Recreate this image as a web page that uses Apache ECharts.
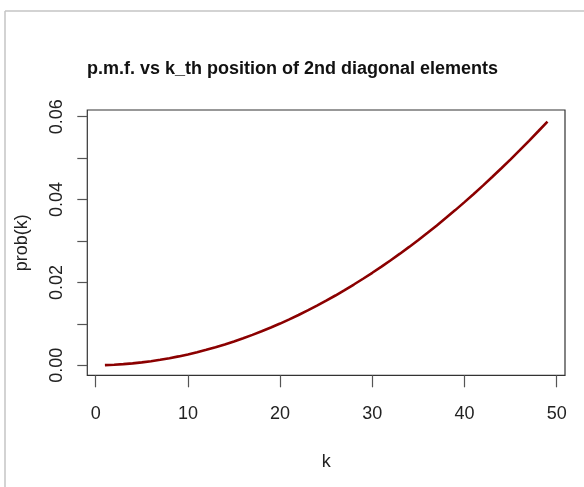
<!DOCTYPE html>
<html>
<head>
<meta charset="utf-8">
<script src="https://cdn.jsdelivr.net/npm/echarts@6/dist/echarts.min.js"></script>
<style>
html,body{margin:0;padding:0;background:#fff;}
#c{width:584px;height:487px;}
</style>
</head>
<body>
<div id="c"></div>
<script>
const titleText = 'p.m.f. vs k_th position of 2nd diagonal elements';
const xName = 'k';
const yName = 'prob(k)';
const kValues = [1,2,3,4,5,6,7,8,9,10,11,12,13,14,15,16,17,18,19,20,21,22,23,24,25,26,27,28,29,30,31,32,33,34,35,36,37,38,39,40,41,42,43,44,45,46,47,48,49];
const probValues = [0.000048,0.000144,0.000288,0.00048,0.00072,0.00101,0.00134,0.00173,0.00216,0.00264,
  0.00317,0.00375,0.00437,0.00504,0.00576,0.00653,0.00735,0.00821,0.00912,0.01008,
  0.01109,0.01215,0.01325,0.01441,0.01561,0.01685,0.01815,0.01950,0.02089,0.02233,
  0.02382,0.02535,0.02694,0.02857,0.03025,0.03198,0.03376,0.03558,0.03745,0.03938,
  0.04134,0.04336,0.04543,0.04754,0.04970,0.05191,0.05417,0.05647,0.05882];
const xTicks = [0,10,20,30,40,50];
const yTicks = [0,0.01,0.02,0.03,0.04,0.05,0.06];
const yLabelTicks = [0,0.02,0.04,0.06];

const chart = echarts.init(document.getElementById('c'), null, {renderer:'canvas'});
const FONT = 'Liberation Sans, Arial, sans-serif';
const data = kValues.map((k,i)=>[k, probValues[i]]);
chart.setOption({
  animation:false,
  backgroundColor:'#ffffff',
  title:{
    text:titleText, left:87, top:60, padding:0,
    textStyle:{fontFamily:FONT,fontSize:18,fontWeight:'bold',color:'#111'}
  },
  grid:{left:87.3, right:19, top:110, bottom:111.7, containLabel:false,
    show:true, borderColor:'#333', borderWidth:1.2, backgroundColor:'transparent'},
  xAxis:{
    type:'value', min:-0.91, max:50.9,
    name:xName, nameLocation:'middle', nameGap:78,
    nameTextStyle:{fontFamily:FONT,fontSize:18,color:'#222'},
    axisLine:{show:false,onZero:false},
    axisTick:{show:true,length:12,customValues:xTicks,lineStyle:{color:'#555',width:1.2}},
    axisLabel:{fontFamily:FONT,fontSize:18,color:'#222',margin:30,customValues:xTicks,
      formatter:(v)=>String(v)},
    splitLine:{show:false}
  },
  yAxis:{
    type:'value', min:-0.0024, max:0.0616,
    name:yName, nameLocation:'middle', nameGap:56,
    nameTextStyle:{fontFamily:FONT,fontSize:18,color:'#222'},
    axisLine:{show:false,onZero:false},
    axisTick:{show:true,length:10,customValues:yTicks,lineStyle:{color:'#555',width:1.2}},
    axisLabel:{fontFamily:FONT,fontSize:18,color:'#222',margin:21,rotate:90,customValues:yLabelTicks,
      formatter:(v)=>v.toFixed(2)},
    splitLine:{show:false}
  },
  series:[{
    type:'line', data:data, showSymbol:false, symbol:'none',
    lineStyle:{color:'#8b0000',width:2.6}
  }],
  graphic:[
    {type:'line',shape:{x1:5,y1:11,x2:584,y2:11},style:{stroke:'#c4c4c4',lineWidth:1.5}},
    {type:'line',shape:{x1:5,y1:11,x2:5,y2:487},style:{stroke:'#c4c4c4',lineWidth:1.5}}
  ]
});
</script>
</body>
</html>
